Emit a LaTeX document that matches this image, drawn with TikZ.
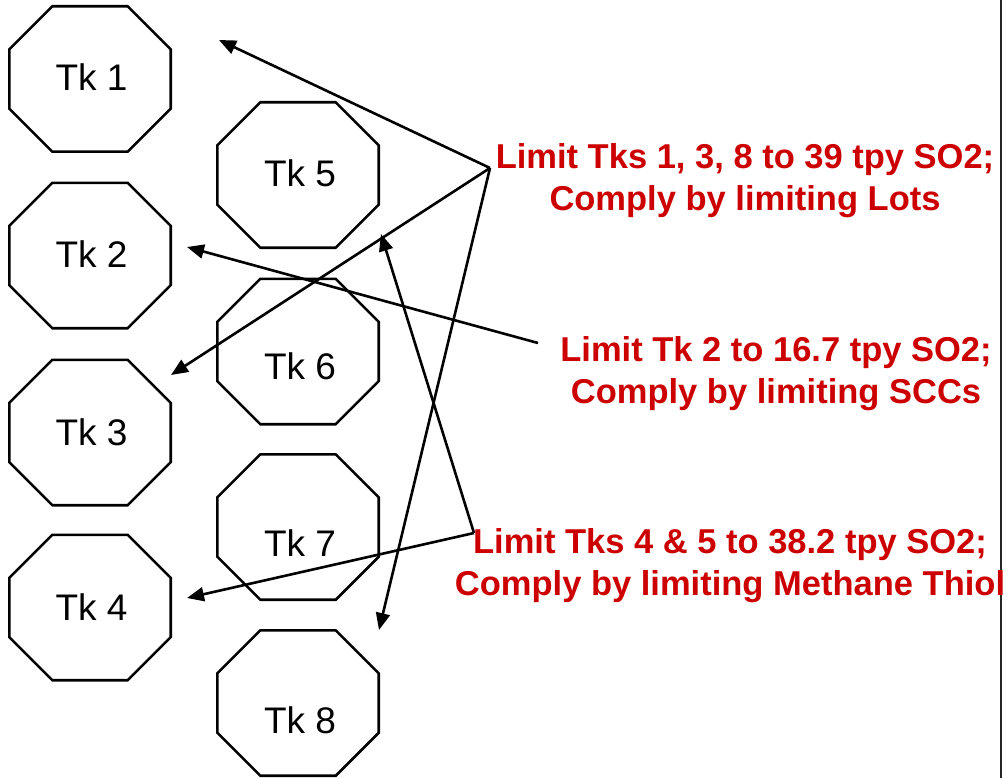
\documentclass[tikz,border=0pt]{standalone}
\usepackage{fontspec}
\setmainfont{Liberation Sans}
\usetikzlibrary{arrows.meta}
\definecolor{notered}{HTML}{CC0000}
\begin{document}
\begin{tikzpicture}[x=1pt,y=-1pt,
  tank/.style={rectangle,draw=none,minimum width=161pt,minimum height=145pt,inner sep=0pt},
  tanktext/.style={inner sep=0pt,font=\fontsize{37}{44}\selectfont},
  tankline/.style={line width=2.6pt,line join=miter},
  note/.style={inner sep=0pt,align=center,text=notered,font=\fontsize{34.5}{42}\selectfont\bfseries},
  link/.style={line width=2.6pt,-{Triangle[length=17pt,width=14pt]}}]
\useasboundingbox (0,0) rectangle (1008,778);

% tanks
\node[tank] (t1) at (90,79) {};
\node[tank] (t2) at (90,255.5) {};
\node[tank] (t3) at (90,432.5) {};
\node[tank] (t4) at (90,607.5) {};
\node[tank] (t5) at (298,175) {};
\node[tank] (t6) at (298,351.5) {};
\node[tank] (t7) at (298,527) {};
\node[tank] (t8) at (298,703) {};

\foreach \n in {t1,t2,t3,t4,t5,t6,t7,t8}
  \draw[tankline] ([xshift=43pt]\n.north west) -- ([xshift=-43pt]\n.north east)
    -- ([yshift=-43pt]\n.north east) -- ([yshift=43pt]\n.south east)
    -- ([xshift=-43pt]\n.south east) -- ([xshift=43pt]\n.south west)
    -- ([yshift=43pt]\n.south west) -- ([yshift=-43pt]\n.north west) -- cycle;

\node[tanktext] (t1text) at ([xshift=1.5pt,yshift=2pt]t1.center) {Tk 1};
\node[tanktext] (t2text) at ([xshift=1.5pt,yshift=1pt]t2.center) {Tk 2};
\node[tanktext] (t3text) at ([xshift=1.5pt]t3.center) {Tk 3};
\node[tanktext] (t4text) at ([xshift=1.5pt]t4.center) {Tk 4};
\node[tanktext] (t5text) at ([xshift=2pt,yshift=2pt]t5.center) {Tk 5};
\node[tanktext] (t6text) at ([xshift=2pt,yshift=-15pt]t6.center) {Tk 6};
\node[tanktext] (t7text) at ([xshift=2pt,yshift=-16pt]t7.center) {Tk 7};
\node[tanktext] (t8text) at ([xshift=2pt,yshift=-17pt]t8.center) {Tk 8};

% right-hand frame edge
\draw[line width=2pt,black!85] (1001,0) -- (1001,778);

% requirement notes
\node[note] (noteA) at (745,181) {Limit Tks 1, 3, 8 to 39 tpy SO2;\\Comply by limiting Lots};
\node[note] (noteB) at (776,374) {Limit Tk 2 to 16.7 tpy SO2;\\Comply by limiting SCCs};
\node[note] (noteC) at (730,566) {Limit Tks 4 \& 5 to 38.2 tpy SO2;\\Comply by limiting Methane Thiol};

% connector hubs and arrow targets
\coordinate (hubA) at (490,168);
\coordinate (hubB) at (538,343);
\coordinate (hubC) at (474,533);
\coordinate (tip1) at (219,40);
\coordinate (tip2) at (187,247);
\coordinate (tip3) at (171,375);
\coordinate (tip4) at (187,598);
\coordinate (tip5) at (381,234);
\coordinate (tip8) at (379,630);

\draw[link] (hubA) -- (tip1);
\draw[link] (hubA) -- (tip3);
\draw[link] (hubA) -- (tip8);
\draw[link] (hubB) -- (tip2);
\draw[link] (hubC) -- (tip4);
\draw[link] (hubC) -- (tip5);
\end{tikzpicture}
\end{document}
